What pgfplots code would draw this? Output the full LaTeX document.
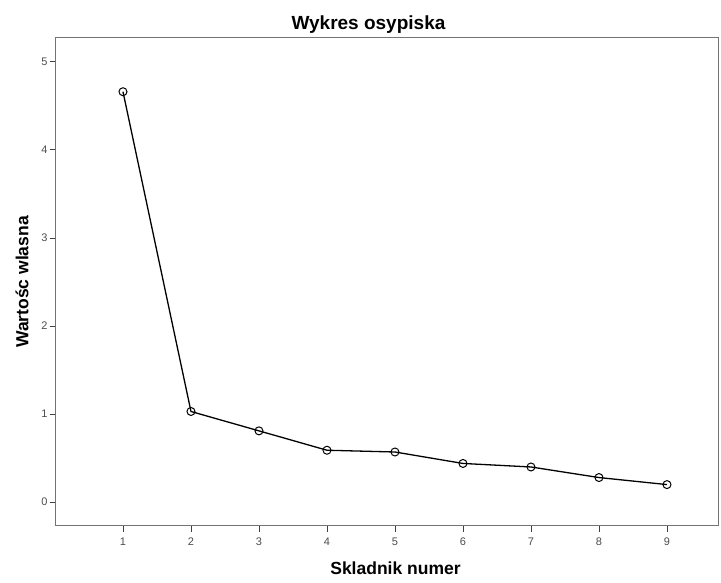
\documentclass[border=0pt]{standalone}
\usepackage{pgfplots}
\pgfplotsset{compat=1.18}
\usepackage{fontspec}
\setmainfont{Liberation Sans}
\begin{document}
\begin{tikzpicture}
\path[use as bounding box] (0,0) rectangle (721pt,583pt);
\begin{axis}[
  at={(56pt,57pt)}, anchor=south west,
  scale only axis,
  width=663pt, height=488pt,
  xmin=0.015, xmax=9.765,
  ymin=-0.27, ymax=5.27,
  xtick={1,...,9},
  ytick={0,...,5},
  xtick pos=bottom, ytick pos=left,
  tick align=outside,
  major tick length=6pt,
  tick style={black!75, line width=0.9pt},
  axis line style={black!55, line width=1pt},
  tick label style={font=\fontsize{11}{12}\selectfont, text=black!70},
  /pgf/number format/assume math mode=true,
  xticklabel style={yshift=-2pt},
  yticklabel style={xshift=1pt},
  title={\bfseries Wykres osypiska},
  title style={font=\fontsize{19}{21}\selectfont, yshift=-5pt, xshift=-19pt},
  xlabel={\bfseries Skladnik numer},
  ylabel={\bfseries Wartośc wlasna},
  label style={font=\fontsize{17.5}{19}\selectfont},
  xlabel style={yshift=-10pt, xshift=8pt},
  ylabel style={yshift=6pt},
]
\addplot[black, line width=1.3pt, mark=o, mark size=4pt, mark options={line width=1pt, fill=white}]
coordinates {(1,4.66) (2,1.03) (3,0.81) (4,0.59) (5,0.57) (6,0.44) (7,0.40) (8,0.28) (9,0.20)};
\end{axis}
\end{tikzpicture}
\end{document}
